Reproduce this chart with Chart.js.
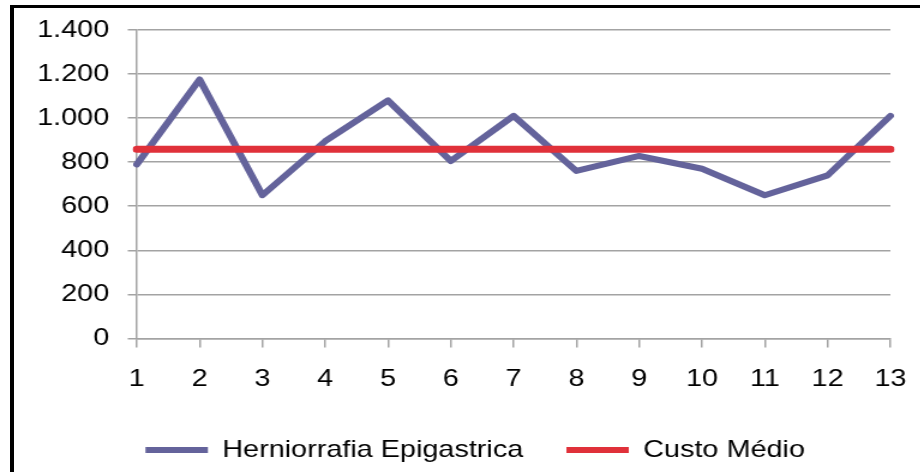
<!DOCTYPE html>
<html>
<head>
<meta charset="utf-8">
<script src="https://cdn.jsdelivr.net/npm/chart.js@4/dist/chart.umd.min.js"></script>
<style>
  html, body { margin: 0; padding: 0; background: #fff; overflow: hidden; }
  #page { position: relative; width: 920px; height: 472px; overflow: hidden; }
  /* the original picture is stretched sideways, so the chart is too */
  #wrap { position: absolute; left: 0; top: 0; width: 767px; height: 472px; transform: scaleX(1.2); transform-origin: 0 0; }
  #frame { position: absolute; left: 10px; top: 5px; width: 960px; height: 500px; border-left: 4px solid #000; border-top: 3px solid #000; }
</style>
</head>
<body>
<div id="page">
  <div id="wrap"><canvas id="chart" width="767" height="472"></canvas></div>
  <div id="frame"></div>
</div>
<script>
const categories = ['1', '2', '3', '4', '5', '6', '7', '8', '9', '10', '11', '12', '13'];
const herniorrafiaValues = [790, 1175, 650, 895, 1080, 805, 1010, 760, 828, 770, 650, 740, 1010];
const custoMedioValues = [858, 858, 858, 858, 858, 858, 858, 858, 858, 858, 858, 858, 858];
const yTickLabels = ['0', '200', '400', '600', '800', '1.000', '1.200', '1.400'];
const seriesNames = ['Herniorrafia Epigastrica', 'Custo Médio'];
const seriesColors = ['#64639b', '#e0313a'];

const gridColor = '#a3a3a3';
Chart.defaults.font.family = '"Liberation Sans", Arial, sans-serif';
Chart.defaults.color = '#000';

// legend in the original sits a bit right of the page centre
const shiftLegend = {
  id: 'shiftLegend',
  afterLayout(chart) {
    chart.legend.left += 25;
    chart.legend.right += 25;
  },
};

const ctx = document.getElementById('chart').getContext('2d');
new Chart(ctx, {
  type: 'line',
  data: {
    labels: categories,
    datasets: [
      {
        label: seriesNames[0],
        data: herniorrafiaValues,
        borderColor: seriesColors[0],
        backgroundColor: seriesColors[0],
        borderWidth: 6,
        pointRadius: 0,
        tension: 0,
        borderJoinStyle: 'round',
        borderCapStyle: 'round',
        order: 1,
      },
      {
        label: seriesNames[1],
        data: custoMedioValues,
        borderColor: seriesColors[1],
        backgroundColor: seriesColors[1],
        borderWidth: 7,
        pointRadius: 0,
        tension: 0,
        borderCapStyle: 'round',
        order: 0, // red line sits on top
      },
    ],
  },
  plugins: [shiftLegend],
  options: {
    responsive: false,
    animation: false,
    layout: { padding: { left: 0, right: 25, top: 29, bottom: 0 } },
    plugins: {
      tooltip: { enabled: false },
      legend: {
        position: 'bottom',
        labels: {
          font: { size: 24 },
          boxWidth: 52,
          boxHeight: 6,
          padding: 36,
          useBorderRadius: true,
          borderRadius: 3,
          generateLabels: (chart) =>
            chart.data.datasets.map((ds, i) => ({
              text: ds.label,
              fillStyle: ds.borderColor,
              strokeStyle: ds.borderColor,
              lineWidth: 0,
              hidden: false,
              datasetIndex: i,
              fontColor: '#000',
            })),
        },
      },
    },
    scales: {
      x: {
        offset: false,
        grid: {
          display: true,
          drawOnChartArea: false,
          drawTicks: true,
          tickLength: 9,
          color: gridColor,
          lineWidth: 1.5,
        },
        border: { display: true, color: gridColor, width: 1.5 },
        ticks: { font: { size: 24 }, padding: 17.5, maxRotation: 0, autoSkip: false },
        afterFit: (scale) => {
          scale.height = 63.5;
          scale.paddingLeft = 0;
          scale.paddingRight = 0;
        },
      },
      y: {
        min: 0,
        max: 1400,
        ticks: {
          stepSize: 200,
          font: { size: 24 },
          padding: 15.5,
          callback: (value, index) => yTickLabels[index],
        },
        grid: { color: gridColor, lineWidth: 1.5, tickLength: 7.5, drawTicks: true },
        border: { display: true, color: gridColor, width: 1.5 },
        afterFit: (scale) => { scale.width = 114; },
      },
    },
  },
});
</script>
</body>
</html>
